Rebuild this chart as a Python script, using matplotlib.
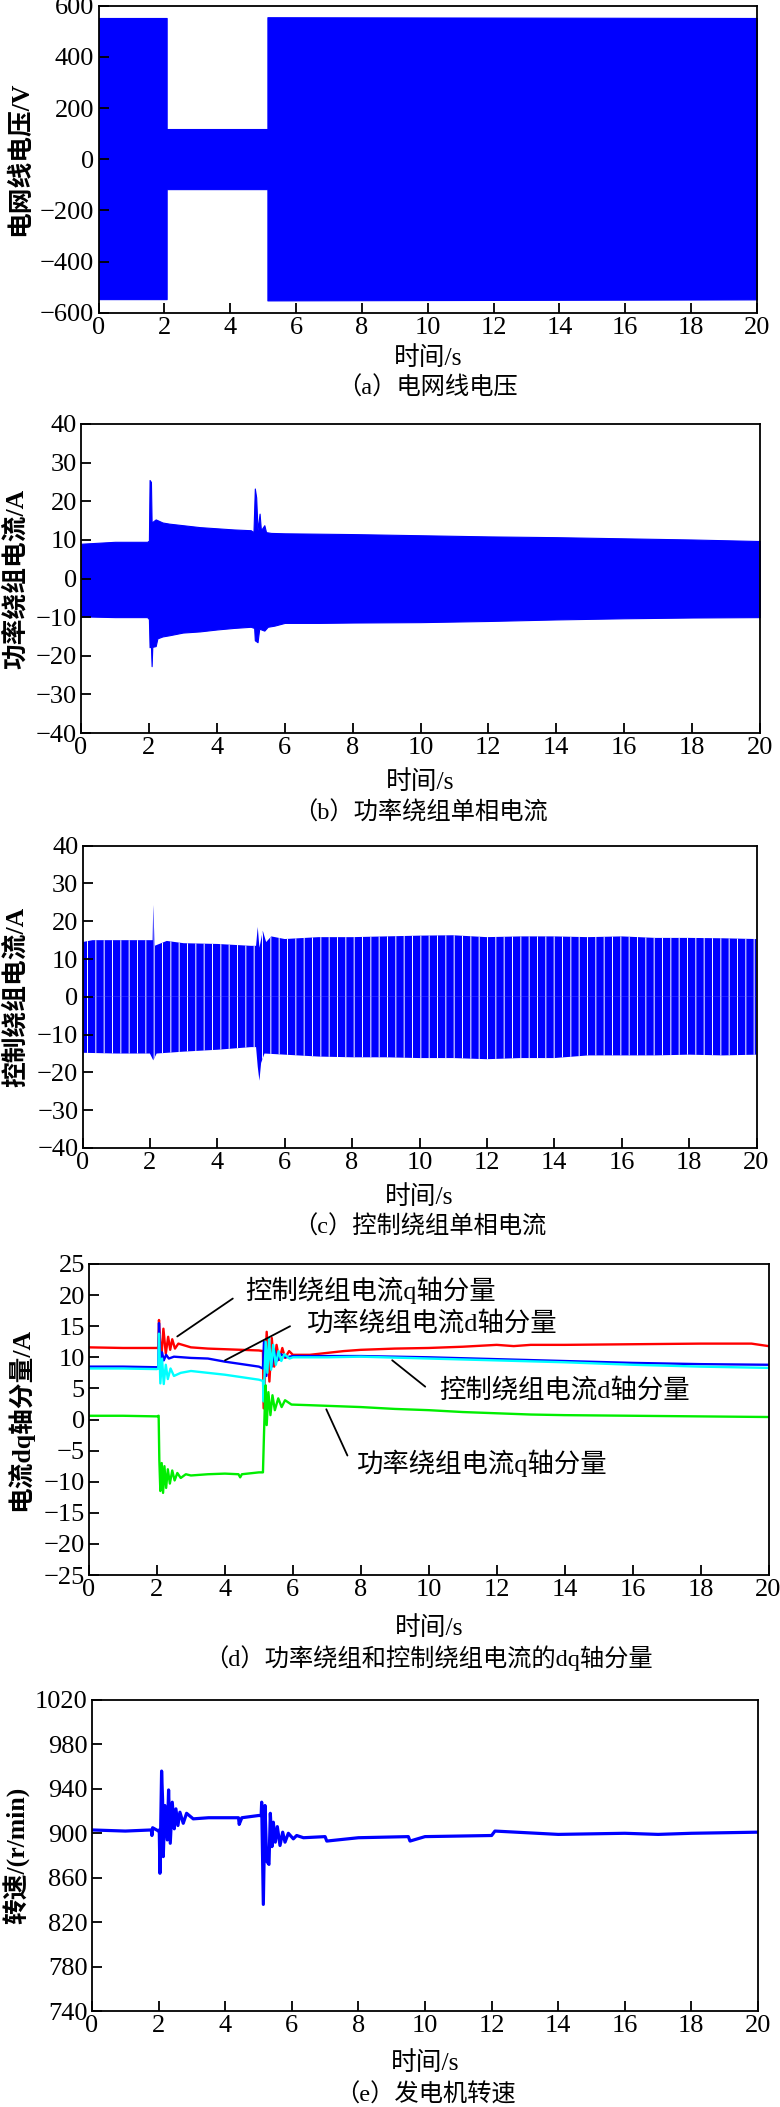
import matplotlib
matplotlib.use('Agg')
import matplotlib.pyplot as plt

plt.rcParams['font.family'] = ['Liberation Serif', 'Noto Sans CJK SC']
plt.rcParams['axes.unicode_minus'] = True
plt.rcParams['hatch.linewidth'] = 0.7

## 数据
# (a) 电网线电压 包络
t_a = [0, 2.07, 2.07, 5.13, 5.13, 20]
ua_hi = [552, 552, 118, 118, 555, 552]
ua_lo = [-547, -547, -117, -117, -552, -548]

# (b) 功率绕组单相电流 包络
t_b_hi = [0, 1.0, 1.95, 2.0, 2.02, 2.06, 2.08, 2.2, 2.4, 2.6, 3.0, 3.5, 4.0, 4.5, 5.0, 5.08,
          5.12, 5.16, 5.2, 5.26, 5.3, 5.4, 5.45, 5.6, 6.0, 7.0, 8.0, 10.0, 12.0, 14.0, 16.0, 18.0, 20.0]
ib_hi = [9.0, 9.5, 9.5, 9.8, 25.5, 25.0, 14.5, 15.3, 14.5, 14.2, 13.8, 13.3, 13.0, 12.7, 12.5, 12.0,
         23.3, 21.0, 12.5, 16.8, 12.5, 13.8, 12.0, 11.8, 11.7, 11.6, 11.5, 11.2, 10.9, 10.7, 10.4, 10.1, 9.7]
t_b_lo = [0, 1.0, 1.95, 2.0, 2.02, 2.06, 2.08, 2.1, 2.2, 2.25, 2.4, 2.6, 3.0, 3.5, 4.0, 4.5, 5.0, 5.1,
          5.12, 5.2, 5.25, 5.4, 5.5, 5.7, 6.0, 7.0, 8.0, 10.0, 12.0, 14.0, 16.0, 18.0, 20.0]
ib_lo = [-9.8, -10.0, -10.0, -10.5, -17.8, -17.5, -22.7, -17.7, -17.5, -15.5, -15.0, -14.7, -14.0, -13.7,
         -13.2, -12.8, -12.5, -12.8, -16.0, -16.5, -13.0, -13.5, -12.5, -12.2, -11.5, -11.5, -11.4, -11.3,
         -11.0, -10.6, -10.3, -10.1, -10.0]

# (c) 控制绕组单相电流 包络
t_c_hi = [0, 0.3, 1.0, 2.08, 2.1, 2.14, 2.5, 3.0, 4.0, 5.0, 5.15, 5.2, 5.25, 5.35, 5.45, 5.6, 6.0,
          7.0, 8.0, 9.0, 10.0, 11.0, 12.0, 13.0, 14.0, 15.0, 16.0, 17.0, 18.0, 19.0, 20.0]
ic_hi = [14.5, 15.0, 15.0, 15.0, 24.3, 13.5, 14.8, 14.2, 14.0, 13.5, 13.5, 18.5, 13.0, 17.5, 14.5, 16.0,
         15.3, 15.8, 15.8, 16.0, 16.2, 16.3, 15.8, 16.0, 16.0, 15.8, 16.0, 15.6, 15.6, 15.5, 15.3]
t_c_lo = [0, 1.0, 2.0, 2.1, 2.2, 3.0, 4.0, 5.0, 5.15, 5.2, 5.25, 5.3, 5.4, 6.0, 7.0, 8.0, 9.0, 10.0,
          11.0, 12.0, 13.0, 14.0, 15.0, 16.0, 17.0, 18.0, 19.0, 20.0]
ic_lo = [-14.8, -15.0, -15.0, -16.8, -15.0, -14.5, -14.0, -13.3, -13.3, -18.5, -22.2, -17.5, -15.0,
         -15.3, -15.8, -16.0, -16.0, -16.2, -16.2, -16.5, -16.2, -16.2, -15.5, -15.5, -15.5, -15.3, -15.5, -15.3]

# (d) dq轴分量
t_red = [0, 1.0, 2.0, 2.04, 2.06, 2.12, 2.19, 2.26, 2.33, 2.39, 2.45, 2.53, 2.63, 3.0, 3.5, 4.0, 4.5,
         5.0, 5.12, 5.14, 5.23, 5.31, 5.38, 5.45, 5.52, 5.6, 5.69, 5.77, 5.89, 6.0, 6.5, 7.0, 7.5, 8.0,
         9.0, 10.0, 11.0, 12.0, 12.5, 13.0, 14.0, 16.0, 18.0, 19.5, 20.0]
iq_c = [11.6, 11.5, 11.5, 11.6, 16.0, 9.2, 14.6, 10.6, 13.3, 11.2, 12.9, 11.4, 12.2, 11.6, 11.4, 11.3,
        11.2, 11.1, 11.0, 1.8, 14.1, 6.1, 13.1, 8.5, 12.0, 9.6, 11.5, 9.9, 11.0, 10.4, 10.4, 10.7, 11.0,
        11.2, 11.4, 11.5, 11.7, 12.0, 11.8, 12.0, 12.0, 12.1, 12.2, 12.2, 11.8]
t_blue = [0, 1.0, 2.0, 2.04, 2.06, 2.1, 2.15, 2.2, 2.27, 2.35, 2.5, 3.0, 3.5, 4.0, 4.5, 5.0, 5.12,
          5.15, 5.22, 5.3, 5.38, 5.45, 5.55, 5.65, 5.8, 6.0, 7.0, 8.0, 10.0, 12.0, 14.0, 16.0, 18.0, 20.0]
id_p = [8.5, 8.5, 8.4, 8.5, 15.5, 9.0, 10.8, 9.5, 10.4, 9.8, 10.1, 9.9, 9.8, 9.3, 8.9, 8.5, 8.2,
        12.5, 7.0, 12.0, 8.5, 11.2, 9.5, 10.5, 10.0, 10.2, 10.2, 10.2, 10.0, 9.7, 9.4, 9.1, 8.9, 8.8]
t_cyan = [0, 1.0, 2.0, 2.04, 2.06, 2.1, 2.15, 2.2, 2.26, 2.32, 2.4, 2.5, 2.7, 3.0, 3.5, 4.0, 4.5, 5.0,
          5.12, 5.14, 5.2, 5.25, 5.3, 5.36, 5.42, 5.5, 5.58, 5.66, 5.75, 5.9, 6.0, 7.0, 8.0, 10.0, 12.0,
          14.0, 16.0, 18.0, 20.0]
id_c = [8.2, 8.2, 8.1, 8.2, 13.8, 5.8, 9.8, 5.7, 8.8, 6.5, 8.2, 7.0, 7.5, 7.8, 7.5, 7.2, 6.8, 6.4,
        6.2, 2.9, 12.5, 7.5, 13.0, 8.0, 12.0, 8.8, 11.0, 9.4, 10.5, 9.8, 10.0, 10.0, 10.1, 9.8, 9.5,
        9.2, 8.8, 8.5, 8.3]
t_green = [0, 1.0, 2.0, 2.05, 2.07, 2.1, 2.14, 2.18, 2.22, 2.27, 2.32, 2.38, 2.45, 2.52, 2.6, 2.7,
           2.85, 3.0, 3.5, 4.0, 4.4, 4.45, 4.5, 5.0, 5.12, 5.15, 5.18, 5.2, 5.23, 5.28, 5.34, 5.4, 5.47,
           5.57, 5.67, 5.77, 5.96, 6.5, 7.0, 8.0, 9.0, 10.0, 11.0, 12.0, 13.0, 14.0, 16.0, 18.0, 20.0]
iq_p = [0.6, 0.6, 0.5, 0.6, -6.5, -11.5, -7.0, -11.8, -7.5, -11.0, -8.0, -10.3, -8.2, -9.8, -8.6,
        -9.4, -8.8, -9.0, -8.8, -8.7, -8.8, -9.3, -8.8, -8.5, -8.5, -2.5, 3.1, 5.5, -0.9, 4.4, 0.7,
        3.9, 1.5, 3.4, 2.0, 3.1, 2.4, 2.3, 2.2, 2.0, 1.7, 1.5, 1.2, 1.0, 0.8, 0.7, 0.6, 0.5, 0.4]

# (e) 发电机转速
t_e = [0, 1.0, 1.78, 1.8, 1.82, 2.0, 2.02, 2.04, 2.09, 2.12, 2.14, 2.19, 2.26, 2.30, 2.35, 2.41, 2.47,
       2.52, 2.58, 2.64, 2.74, 2.84, 3.04, 3.5, 4.0, 4.4, 4.42, 4.5, 5.0, 5.08, 5.095, 5.145, 5.195,
       5.245, 5.315, 5.355, 5.405, 5.445, 5.505, 5.565, 5.646, 5.726, 5.796, 5.896, 6.046, 6.146, 6.35,
       7.0, 7.05, 8.0, 9.5, 9.55, 10.0, 12.0, 12.1, 14.0, 16.0, 17.0, 18.0, 20.0]
n_e = [903, 902, 903, 898, 905, 902, 903, 864, 956, 930, 879, 925, 894, 939, 891, 928, 904,
       922, 907, 919, 909, 918, 913, 914, 914, 914, 908, 914, 916, 916, 928, 836, 925,
       875, 872, 918, 888, 910, 892, 906, 889, 901, 892, 900, 895, 898, 896,
       897, 893, 896, 897, 893, 897, 898, 902, 899, 900, 899, 900, 901]

xticks = list(range(0, 21, 2))

W, H = 780, 2107
fig = plt.figure(figsize=(W / 100, H / 100), dpi=100)


def make_axes(l, r, t, b):
    ax = fig.add_axes([l / W, 1 - b / H, (r - l) / W, (b - t) / H])
    ax.set_xlim(0, 20)
    ax.set_xticks(xticks)
    ax.tick_params(direction='in', length=7.5, width=1.3, labelsize=19, pad=3,
                   top=False, right=False)
    for s in ax.spines.values():
        s.set_linewidth(1.3)
    return ax


def labels(ax, ylabel, yx, xlab_y, cap, cap_y):
    pos = ax.get_position()
    cx = (pos.x0 + pos.x1) / 2
    cy = (pos.y0 + pos.y1) / 2
    fig.text(yx / W, cy, ylabel, rotation=90, ha='center', va='center', fontsize=18.5, fontweight='bold')
    fig.text(cx, 1 - xlab_y / H, '时间/s', ha='center', va='center', fontsize=18.5, fontweight='medium')
    fig.text(cx, 1 - cap_y / H, cap, ha='center', va='center', fontsize=17.5)


blue = '#0000ff'

# (a)
ax = make_axes(98.5, 757, 5.7, 312.7)
ax.fill_between(t_a, ua_lo, ua_hi, color=blue, lw=0.8)
ax.set_ylim(-600, 600)
ax.set_yticks(range(-600, 601, 200))
labels(ax, '电网线电压/V', 20, 358, '（a）电网线电压', 388)

# (b)
ax = make_axes(81, 760, 424, 733)
ax.fill_between(t_b_hi, ib_hi, 0, color=blue, lw=0.8)
ax.fill_between(t_b_lo, ib_lo, 0, color=blue, lw=0.8)
ax.set_ylim(-40, 40)
ax.set_yticks(range(-40, 41, 10))
labels(ax, '功率绕组电流/A', 16, 782, '（b）功率绕组单相电流', 813)

# (c) 控制绕组电流是低频正弦, 画成带白色竖纹的条带
ax = make_axes(82.5, 756.5, 845.7, 1148)
for tt, yy in ((t_c_hi, ic_hi), (t_c_lo, ic_lo)):
    ax.fill_between(tt, yy, 0, facecolor=blue, edgecolor='none', lw=0)
    ax.fill_between(tt, yy, 0, facecolor='none', edgecolor='white', hatch='||', lw=0)
ax.set_ylim(-40, 40)
ax.set_yticks(range(-40, 41, 10))
labels(ax, '控制绕组电流/A', 16, 1197, '（c）控制绕组单相电流', 1227)

# (d)
ax = make_axes(89, 768.5, 1264, 1575)
ax.plot(t_red, iq_c, color='#ff0000', lw=1.7)
ax.plot(t_blue, id_p, color='#0000ff', lw=1.7)
ax.plot(t_cyan, id_c, color='#00ffff', lw=1.7)
ax.plot(t_green, iq_p, color='#00ee00', lw=1.7)
ax.set_ylim(-25, 25)
ax.set_yticks(range(-25, 26, 5))
notes = [('控制绕组电流q轴分量', (4.59, 20.8), (4.3, 19.7), (2.53, 13.1)),
         ('功率绕组电流d轴分量', (6.42, 15.5), (5.99, 15.2), (3.93, 9.3)),
         ('控制绕组电流d轴分量', (10.3, 4.7), (9.96, 5.0), (8.86, 9.8)),
         ('功率绕组电流q轴分量', (7.89, -7.0), (7.64, -6.2), (6.95, 2.05))]
for txt, tp, p0, p1 in notes:
    ax.text(tp[0], tp[1], txt, ha='left', va='center', fontsize=19)
    ax.annotate('', xy=p1, xytext=p0, arrowprops=dict(arrowstyle='-', color='black', lw=1.3))
labels(ax, '电流dq轴分量/A', 20, 1628, '（d）功率绕组和控制绕组电流的dq轴分量', 1658)

# (e)
ax = make_axes(92, 758, 1700, 2011)
ax.plot(t_e, n_e, color='#0000ff', lw=2.3)
ax.set_ylim(740, 1020)
ax.set_yticks(range(740, 1021, 40))
labels(ax, '转速/(r/min)', 17, 2063, '（e）发电机转速', 2095)

fig.savefig('out.png', dpi=100)
